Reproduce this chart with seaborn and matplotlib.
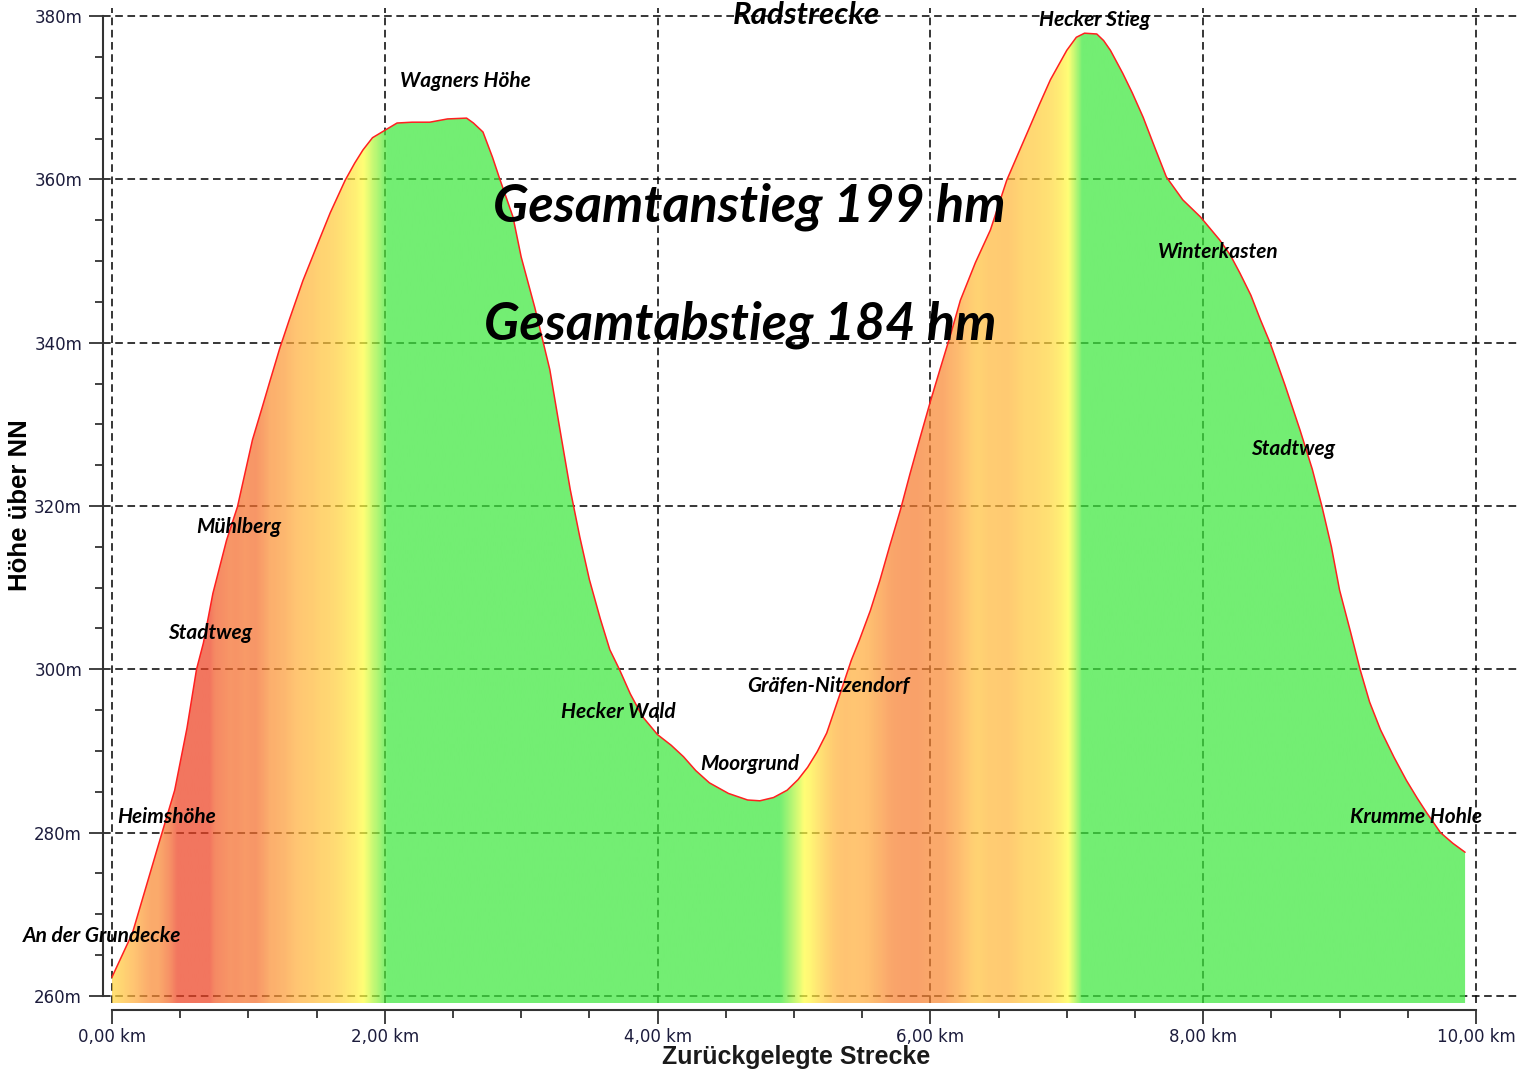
import numpy as np
import matplotlib
matplotlib.use("Agg")
import matplotlib.pyplot as plt
import seaborn as sns
from matplotlib.colors import LinearSegmentedColormap
from matplotlib.ticker import MultipleLocator

# elevation profile (km, m)
km = [0.0, 0.15, 0.33, 0.46, 0.55, 0.62, 0.67, 0.74, 0.84, 0.92, 1.03, 1.10, 1.16, 1.23,
      1.30, 1.40, 1.52, 1.60, 1.71, 1.78, 1.84, 1.91, 2.00, 2.09, 2.20, 2.33, 2.46, 2.60,
      2.65, 2.72, 2.79, 2.84, 2.94, 3.00, 3.10, 3.21, 3.29, 3.36, 3.43, 3.50, 3.58, 3.65,
      3.72, 3.80, 3.89, 4.00, 4.10, 4.19, 4.28, 4.38, 4.52, 4.66, 4.75, 4.85, 4.95, 5.03,
      5.10, 5.17, 5.24, 5.34, 5.42, 5.48, 5.56, 5.63, 5.70, 5.78, 5.85, 5.92, 6.00, 6.07,
      6.15, 6.22, 6.33, 6.44, 6.56, 6.64, 6.71, 6.80, 6.88, 6.95, 7.00, 7.07, 7.13, 7.22,
      7.27, 7.32, 7.41, 7.48, 7.56, 7.65, 7.73, 7.85, 7.98, 8.12, 8.20, 8.27, 8.35, 8.42,
      8.49, 8.60, 8.71, 8.80, 8.87, 8.94, 9.00, 9.08, 9.15, 9.22, 9.30, 9.40, 9.49, 9.57,
      9.64, 9.74, 9.83, 9.92]
elev = [262.3, 267.7, 277.9, 285.2, 292.8, 300.0, 303.2, 309.3, 315.8, 319.9, 328.1, 332.0,
        335.4, 339.3, 342.8, 347.6, 352.6, 355.9, 359.9, 362.0, 363.6, 365.1, 366.0, 366.9,
        367.0, 367.0, 367.4, 367.5, 366.9, 365.8, 362.7, 360.2, 355.4, 350.5, 344.3, 336.7,
        328.8, 322.0, 316.2, 311.0, 306.2, 302.4, 300.0, 297.0, 294.2, 292.0, 290.7, 289.3,
        287.6, 286.1, 284.8, 284.0, 283.9, 284.3, 285.2, 286.5, 288.0, 289.9, 292.2, 297.1,
        301.1, 303.6, 307.2, 310.9, 315.0, 319.5, 323.9, 328.1, 332.8, 336.7, 341.1, 345.2,
        349.8, 353.8, 359.9, 363.0, 365.7, 369.2, 372.2, 374.3, 375.8, 377.4, 377.9, 377.8,
        377.0, 375.8, 373.0, 370.6, 367.6, 363.7, 360.3, 357.5, 355.4, 352.6, 350.7, 348.5,
        345.8, 342.8, 340.0, 334.8, 329.3, 324.5, 320.0, 315.0, 309.7, 304.6, 300.0, 296.0,
        292.6, 289.2, 286.4, 284.2, 282.4, 280.0, 278.7, 277.6]

# waypoint labels and where they sit
wp_names = ["Wagners Höhe", "Hecker Stieg", "Winterkasten", "Stadtweg", "Mühlberg",
            "Stadtweg", "Gräfen-Nitzendorf", "Hecker Wald", "Moorgrund", "Heimshöhe",
            "Krumme Hohle", "An der Grundecke"]
wp_x = [2.11, 6.80, 7.67, 8.35, 0.62, 0.41, 4.66, 3.29, 4.31, 0.04, 9.08, -0.65]
wp_y = [372.0, 379.5, 351.1, 327.0, 317.4, 304.4, 298.0, 294.8, 288.4, 281.9, 281.9, 267.3]

title = "Radstrecke"
summary = ["Gesamtanstieg 199 hm", "Gesamtabstieg 184 hm"]
summary_x = [2.79, 2.73]
summary_y = [356.6, 342.2]

xticks = [0, 2, 4, 6, 8, 10]
yticks = [260, 280, 300, 320, 340, 360, 380]

# slope colour classes (m per km)
slope_stops = [0, 9, 22, 48, 76]
slope_cols = ["#3ce83c", "#3ce83c", "#ffff40", "#ffaa3a", "#ee4020"]

sns.set_style("ticks")
plt.rcParams["font.family"] = ["DejaVu Sans"]
plt.rcParams["text.color"] = "black"

fig = plt.figure(figsize=(15.23, 10.71), dpi=100)
ax = fig.add_axes([0.0676, 0.0635, 0.9284, 0.929])
ybot = 259.14

ax.grid(True, which="major", color="black", ls=(0, (5, 3)), lw=1.1)
ax.set_axisbelow(True)

# colour fill by smoothed gradient
xs = np.linspace(km[0], km[-1], 1200)
ys = np.interp(xs, km, elev)
slope = np.gradient(ys, xs)
w = 31
slope_s = np.convolve(np.pad(slope, w // 2, mode="edge"), np.ones(w) / w, mode="valid")
cmap = LinearSegmentedColormap.from_list(
    "slope", [(s / slope_stops[-1], c) for s, c in zip(slope_stops, slope_cols)])
img = cmap(np.clip(slope_s / slope_stops[-1], 0, 1))[np.newaxis, :, :]
im = ax.imshow(img, extent=[xs[0], xs[-1], ybot, 381], aspect="auto",
               interpolation="bilinear", alpha=0.72, zorder=2)
poly = ax.fill_between(km, elev, ybot, facecolor="none", edgecolor="none", zorder=2)
im.set_clip_path(poly.get_paths()[0], transform=ax.transData)

sns.lineplot(x=km, y=elev, color="#ff2020", lw=1.1, ax=ax, zorder=3)

ax.set_xlim(-0.066, 10.30)
ax.set_ylim(ybot, 380.98)

sns.despine(ax=ax)
ax.spines["bottom"].set_position(("outward", 5))
ax.spines["left"].set_bounds(260, 380)
ax.spines["bottom"].set_bounds(0, 10)
for s in ["left", "bottom"]:
    ax.spines[s].set_color("#333333")
    ax.spines[s].set_linewidth(1.5)

ax.set_xticks(xticks)
ax.set_xticklabels([f"{v:.2f}".replace(".", ",") + " km" for v in xticks])
ax.set_yticks(yticks)
ax.set_yticklabels([f"{v}m" for v in yticks])
ax.xaxis.set_minor_locator(MultipleLocator(0.5))
ax.yaxis.set_minor_locator(MultipleLocator(5))
ax.tick_params(which="major", length=10, width=1.3, color="#333333",
               labelsize=12, labelcolor="#1c1c3c")
ax.tick_params(which="minor", length=6, width=1.3, color="#333333")
ax.tick_params(axis="x", pad=3)
ax.tick_params(axis="y", pad=5)

fig.text(20 / 1523, 1 - 505 / 1071, "Höhe über NN", rotation=90, ha="center", va="center",
         fontsize=18.5, fontweight="bold", family="Liberation Sans", color="black")
fig.text(796 / 1523, 1 - 1057 / 1071, "Zurückgelegte Strecke", ha="center", va="center",
         fontsize=18, fontweight="bold", family="Liberation Sans", color="#1a1a1a")

lab = dict(fontweight="bold", fontstyle="italic", family="Lato", color="black", zorder=5)
for name, x, y in zip(wp_names, wp_x, wp_y):
    ax.text(x, y, name, ha="left", va="center", fontsize=15, clip_on=False, **lab)
for txt, x, y in zip(summary, summary_x, summary_y):
    ax.text(x, y, txt, ha="left", va="center", fontsize=37.5, **lab)
ax.text(5.09, 380.1, title, ha="center", va="center", fontsize=22.5, **lab)

fig.savefig("out.png", dpi=100)
